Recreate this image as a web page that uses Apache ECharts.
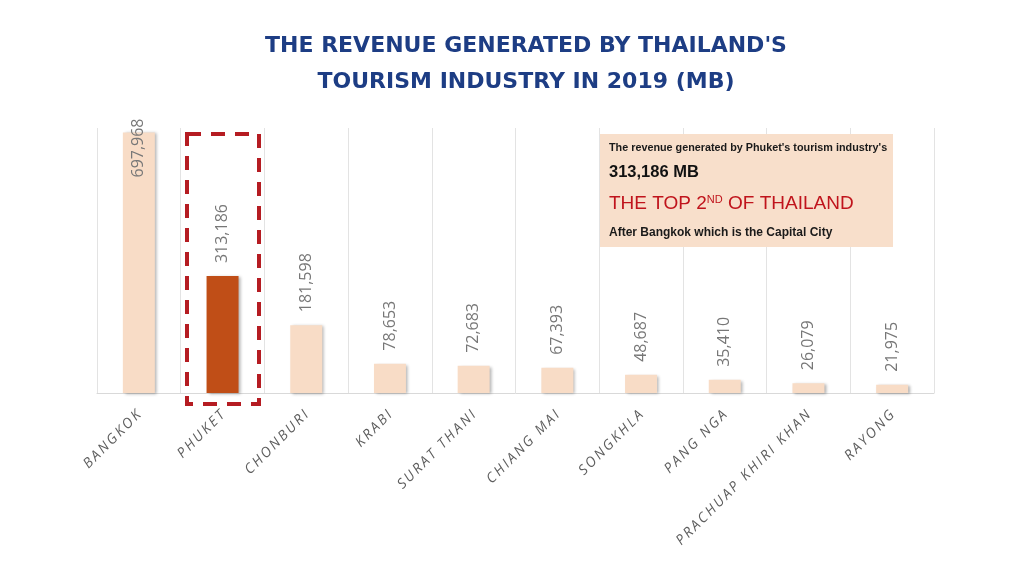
<!DOCTYPE html>
<html>
<head>
<meta charset="utf-8">
<title>Thailand tourism revenue 2019</title>
<script src="https://cdn.jsdelivr.net/npm/echarts@6/dist/echarts.min.js"></script>
<style>
  html, body { margin: 0; padding: 0; background: #fff; }
  #chart { width: 1024px; height: 574px; }
</style>
</head>
<body>
<div id="chart"></div>
<script>
// data (MB)
var provinces = ['BANGKOK', 'PHUKET', 'CHONBURI', 'KRABI', 'SURAT THANI', 'CHIANG MAI',
                 'SONGKHLA', 'PANG NGA', 'PRACHUAP KHIRI KHAN', 'RAYONG'];
var revenue = [697968, 313186, 181598, 78653, 72683, 67393, 48687, 35410, 26079, 21975];
var highlight = 'PHUKET';

var myChart = echarts.init(document.getElementById('chart'));

var barData = provinces.map(function (name, i) {
    var item = { value: revenue[i] };
    if (name === highlight) {
        item.itemStyle = { color: '#c04e17' };
    }
    if (i === 0) {
        // Bangkok label sits on top of the bar itself
        item.label = { position: ['50%', -14], align: 'right' };
    }
    return item;
});

var red = '#c0141c';

var option = {
    animation: false,
    title: {
        text: "THE REVENUE GENERATED BY THAILAND'S\nTOURISM INDUSTRY IN 2019 (MB)",
        left: 521,
        textAlign: 'center',
        top: 23,
        textStyle: {
            fontFamily: 'DejaVu Sans',
            fontWeight: 'bold',
            fontSize: 22,
            lineHeight: 36,
            color: '#1d3d84'
        }
    },
    grid: { left: 97, right: 90, top: 128, bottom: 181 },
    xAxis: {
        type: 'category',
        data: provinces,
        axisTick: { show: false },
        axisLine: { lineStyle: { color: '#d9d9d9' } },
        splitLine: { show: true, lineStyle: { color: '#e3e3e3' } },
        axisLabel: {
            rotate: 45,
            interval: 0,
            margin: 20,
            color: '#5e5e5e',
            fontFamily: 'Open Sans',
            fontStyle: 'italic',
            fontSize: 14,
            // spread the letters a little, as in the original
            formatter: function (v) {
                return v.split('').join('\u2009');
            }
        }
    },
    yAxis: {
        type: 'value',
        min: 0,
        max: 710000,
        show: false,
        splitLine: { show: false }
    },
    series: [{
        type: 'bar',
        data: barData,
        barWidth: 32,
        itemStyle: {
            color: '#f8dcc6',
            shadowColor: 'rgba(0,0,0,0.3)',
            shadowBlur: 3,
            shadowOffsetX: 2,
            shadowOffsetY: 1
        },
        label: {
            show: true,
            position: 'top',
            distance: 13,
            rotate: 90,
            align: 'left',
            verticalAlign: 'middle',
            color: '#777',
            fontFamily: 'Open Sans',
            fontSize: 16,
            formatter: function (p) {
                return p.value.toLocaleString('en-US');
            }
        }
    }],
    graphic: [
        {
            // dashed frame around Phuket
            type: 'rect',
            shape: { x: 187, y: 134, width: 72, height: 270 },
            style: { fill: 'rgba(0,0,0,0)', stroke: '#b51c22', lineWidth: 4, lineDash: [14, 10] },
            z: 100
        },
        // annotation box
        { type: 'rect', z: 100, shape: { x: 600, y: 134, width: 293, height: 113 },
          style: { fill: '#f8dfcb' } },
        { type: 'text', z: 101, x: 609, y: 148,
          style: { text: "The revenue generated by Phuket's tourism industry's",
                   fontFamily: 'Liberation Sans', fontWeight: 'bold', fontSize: 10.8,
                   fill: '#1a1a1a', verticalAlign: 'middle' } },
        { type: 'text', z: 101, x: 609, y: 172,
          style: { text: '313,186 MB', fontFamily: 'Liberation Sans', fontWeight: 'bold',
                   fontSize: 16.5, fill: '#111', verticalAlign: 'middle' } },
        { type: 'text', z: 101, x: 609, y: 204,
          style: {
              text: '{a|THE TOP 2}{s|ND}{a| OF THAILAND}',
              verticalAlign: 'middle',
              fill: red,
              rich: {
                  a: { fontFamily: 'Liberation Sans', fontSize: 19, fill: red },
                  s: { fontFamily: 'Liberation Sans', fontSize: 11, fill: red, verticalAlign: 'top', padding: [0, 0, 8, 0] }
              }
          } },
        { type: 'text', z: 101, x: 609, y: 233,
          style: { text: 'After Bangkok which is the Capital City',
                   fontFamily: 'Liberation Sans', fontWeight: 'bold', fontSize: 12,
                   fill: '#1a1a1a', verticalAlign: 'middle' } }
    ]
};

myChart.setOption(option);
</script>
</body>
</html>
